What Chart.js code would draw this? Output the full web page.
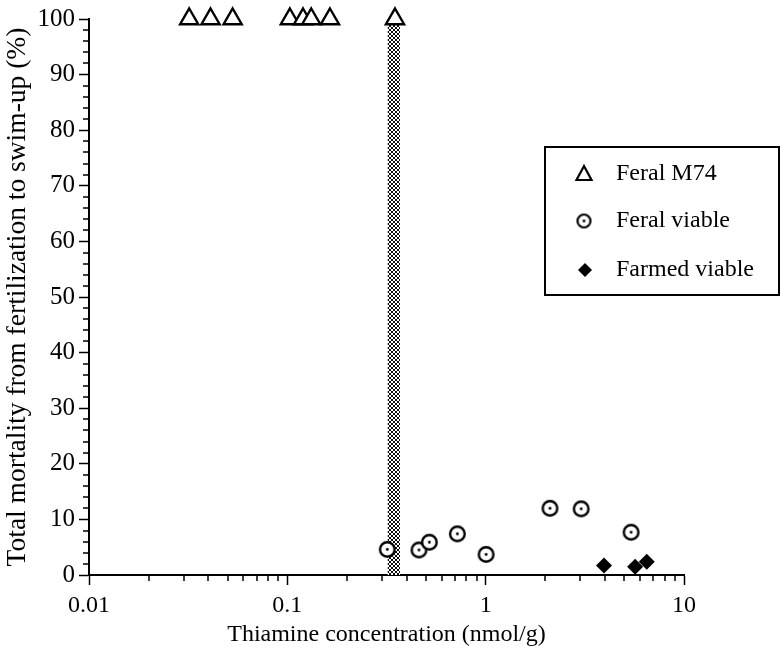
<!DOCTYPE html>
<html>
<head>
<meta charset="utf-8">
<script src="https://cdn.jsdelivr.net/npm/chart.js@4/dist/chart.umd.min.js"></script>
<style>
  html, body { margin: 0; padding: 0; background: #fff; }
  #wrap { position: relative; width: 781px; height: 650px; }
</style>
</head>
<body>
<div id="wrap"><canvas id="chart" width="781" height="650"></canvas></div>
<script>
// Thiamine concentration (nmol/g) and total mortality (%) per group
const m74Thiamine = [0.032, 0.041, 0.053, 0.103, 0.120, 0.132, 0.164, 0.349];
const m74Mortality = [100, 100, 100, 100, 100, 100, 100, 100];

const feralThiamine = [0.319, 0.461, 0.520, 0.720, 1.005, 2.11, 3.03, 5.41];
const feralMortality = [4.6, 4.5, 5.9, 7.4, 3.7, 12.0, 11.9, 7.7];

const farmedThiamine = [3.95, 5.67, 6.49];
const farmedMortality = [1.7, 1.5, 2.4];

// Thiamine threshold band (nmol/g), spanning the full mortality range
const bandThiamine = [0.32, 0.37];
const bandMortality = [100, 100];

const seriesLabels = ['Feral M74', 'Feral viable', 'Farmed viable'];
const xMajorTicks = [0.01, 0.1, 1, 10];
const yMajorTicks = [0, 10, 20, 30, 40, 50, 60, 70, 80, 90, 100];

const SERIF = '"Liberation Serif", "Times New Roman", Times, serif';

function toPoints(xs, ys) { return xs.map((x, i) => ({ x: x, y: ys[i] })); }

// Cross-hatch fill for the threshold band
function makeHatch() {
  const t = document.createElement('canvas');
  t.width = 4; t.height = 4;
  const c = t.getContext('2d');
  c.fillStyle = '#fff';
  c.fillRect(0, 0, 4, 4);
  c.strokeStyle = '#000';
  c.lineWidth = 0.95;
  c.beginPath();
  c.moveTo(0, 0); c.lineTo(4, 4);
  c.moveTo(4, 0); c.lineTo(0, 4);
  c.stroke();
  return c.createPattern(t, 'repeat');
}

// Open circle with a centre dot
function makeDotCircle(r, lw) {
  const s = Math.ceil(r * 2 + 6);
  const cv = document.createElement('canvas');
  cv.width = s; cv.height = s;
  const c = cv.getContext('2d');
  c.beginPath();
  c.arc(s / 2, s / 2, r, 0, Math.PI * 2);
  c.fillStyle = '#fff';
  c.fill();
  c.lineWidth = lw;
  c.strokeStyle = '#000';
  c.stroke();
  c.beginPath();
  c.arc(s / 2, s / 2, 1.4, 0, Math.PI * 2);
  c.fillStyle = '#000';
  c.fill();
  return cv;
}

const dotCircle = makeDotCircle(7.3, 2.4);
const legendCircle = makeDotCircle(6.5, 2.2);

function isMajor(list, v) {
  return list.some(m => Math.abs(m - v) < 1e-9 * Math.max(1, m));
}

// Minor tick marks drawn outward from each axis
const minorTicks = {
  id: 'minorTicks',
  afterDraw(chart) {
    const ctx = chart.ctx;
    const xs = chart.scales.x, ys = chart.scales.y;
    ctx.save();
    ctx.strokeStyle = '#000';
    ctx.lineWidth = 1.5;
    ctx.beginPath();
    xs.ticks.forEach(t => {
      if (isMajor(xMajorTicks, t.value)) return;
      const px = Math.round(xs.getPixelForValue(t.value));
      ctx.moveTo(px, xs.top);
      ctx.lineTo(px, xs.top + 6);
    });
    ys.ticks.forEach(t => {
      if (isMajor(yMajorTicks, t.value)) return;
      const py = Math.round(ys.getPixelForValue(t.value));
      ctx.moveTo(ys.right - 6, py);
      ctx.lineTo(ys.right, py);
    });
    ctx.stroke();
    ctx.restore();
  }
};

// Boxed legend inside the plot area
const boxLegend = {
  id: 'boxLegend',
  afterDraw(chart) {
    const ctx = chart.ctx;
    const bx = 545, by = 147, bw = 234, bh = 148;
    ctx.save();
    ctx.strokeStyle = '#000';
    ctx.lineWidth = 2;
    ctx.strokeRect(bx, by, bw, bh);

    const symX = 584, textX = 616;
    const rows = [174, 221, 270];
    ctx.font = '24px ' + SERIF;
    ctx.fillStyle = '#000';
    ctx.textBaseline = 'middle';
    ctx.textAlign = 'left';

    // triangle
    let y = rows[0];
    ctx.beginPath();
    ctx.moveTo(symX, y - 8);
    ctx.lineTo(symX + 7.5, y + 6);
    ctx.lineTo(symX - 7.5, y + 6);
    ctx.closePath();
    ctx.lineWidth = 2.2;
    ctx.lineJoin = 'miter';
    ctx.stroke();
    ctx.fillText(seriesLabels[0], textX, y);

    // dotted circle
    y = rows[1];
    ctx.drawImage(legendCircle, symX - legendCircle.width / 2, y - legendCircle.height / 2);
    ctx.fillText(seriesLabels[1], textX, y);

    // diamond
    y = rows[2];
    ctx.beginPath();
    ctx.moveTo(symX + 1, y - 7);
    ctx.lineTo(symX + 8, y);
    ctx.lineTo(symX + 1, y + 7);
    ctx.lineTo(symX - 6, y);
    ctx.closePath();
    ctx.fill();
    ctx.fillText(seriesLabels[2], textX, y);
    ctx.restore();
  }
};

const hatch = makeHatch();

new Chart(document.getElementById('chart'), {
  type: 'scatter',
  data: {
    datasets: [
      {
        label: seriesLabels[0],
        data: toPoints(m74Thiamine, m74Mortality),
        pointStyle: 'triangle',
        pointRadius: 10.5,
        pointBorderWidth: 2.4,
        pointBorderColor: '#000',
        pointBackgroundColor: '#fff',
        clip: false,
        order: 1
      },
      {
        label: seriesLabels[1],
        data: toPoints(feralThiamine, feralMortality),
        pointStyle: dotCircle,
        pointRadius: 8,
        clip: false,
        order: 1
      },
      {
        label: seriesLabels[2],
        data: toPoints(farmedThiamine, farmedMortality),
        pointStyle: 'rectRot',
        pointRadius: 8,
        pointBorderWidth: 0,
        pointBorderColor: '#000',
        pointBackgroundColor: '#000',
        clip: false,
        order: 1
      },
      {
        label: 'threshold',
        type: 'line',
        data: toPoints(bandThiamine, bandMortality),
        showLine: true,
        borderWidth: 0,
        borderColor: 'rgba(0,0,0,0)',
        pointRadius: 0,
        fill: 'origin',
        backgroundColor: hatch,
        order: 10
      }
    ]
  },
  options: {
    responsive: false,
    animation: false,
    events: [],
    layout: { padding: { top: 18, right: 97, left: 0, bottom: 0 } },
    plugins: {
      legend: { display: false },
      tooltip: { enabled: false },
      filler: { propagate: false }
    },
    scales: {
      x: {
        type: 'logarithmic',
        min: 0.01,
        max: 10,
        afterBuildTicks(scale) {
          const ticks = [];
          for (let e = -2; e <= 0; e++) {
            for (let m = 1; m <= 9; m++) {
              ticks.push({ value: Number((m * Math.pow(10, e)).toPrecision(3)) });
            }
          }
          ticks.push({ value: 10 });
          scale.ticks = ticks;
        },
        afterFit(scale) { scale.height = 75; },
        border: { display: true, color: '#000', width: 2 },
        grid: {
          display: true,
          drawOnChartArea: false,
          drawTicks: true,
          tickLength: 10,
          tickWidth: 1.5,
          tickColor: ctx => (ctx.tick && isMajor(xMajorTicks, ctx.tick.value)) ? '#000' : 'rgba(0,0,0,0)'
        },
        ticks: {
          autoSkip: false,
          maxRotation: 0,
          minRotation: 0,
          padding: 6,
          color: '#000',
          font: { family: SERIF, size: 24 },
          callback: v => isMajor(xMajorTicks, v) ? String(v) : ''
        },
        title: {
          display: true,
          text: 'Thiamine concentration (nmol/g)',
          color: '#000',
          font: { family: SERIF, size: 24 },
          padding: { top: 0, bottom: 1 }
        }
      },
      y: {
        type: 'linear',
        min: 0,
        max: 100,
        afterBuildTicks(scale) {
          const ticks = [];
          for (let v = 0; v <= 100; v += 2) ticks.push({ value: v });
          scale.ticks = ticks;
        },
        afterFit(scale) { scale.width = 89; },
        border: { display: true, color: '#000', width: 2 },
        grid: {
          display: true,
          drawOnChartArea: false,
          drawTicks: true,
          tickLength: 10,
          tickWidth: 1.5,
          tickColor: ctx => (ctx.tick && isMajor(yMajorTicks, ctx.tick.value)) ? '#000' : 'rgba(0,0,0,0)'
        },
        ticks: {
          autoSkip: false,
          padding: 4,
          color: '#000',
          font: { family: SERIF, size: 25 },
          callback: v => isMajor(yMajorTicks, v) ? String(v) : ''
        },
        title: {
          display: true,
          text: 'Total mortality from fertilization to swim-up (%)',
          color: '#000',
          font: { family: SERIF, size: 27.5 },
          padding: { top: 1, bottom: 0 }
        }
      }
    }
  },
  plugins: [minorTicks, boxLegend]
});
</script>
</body>
</html>
